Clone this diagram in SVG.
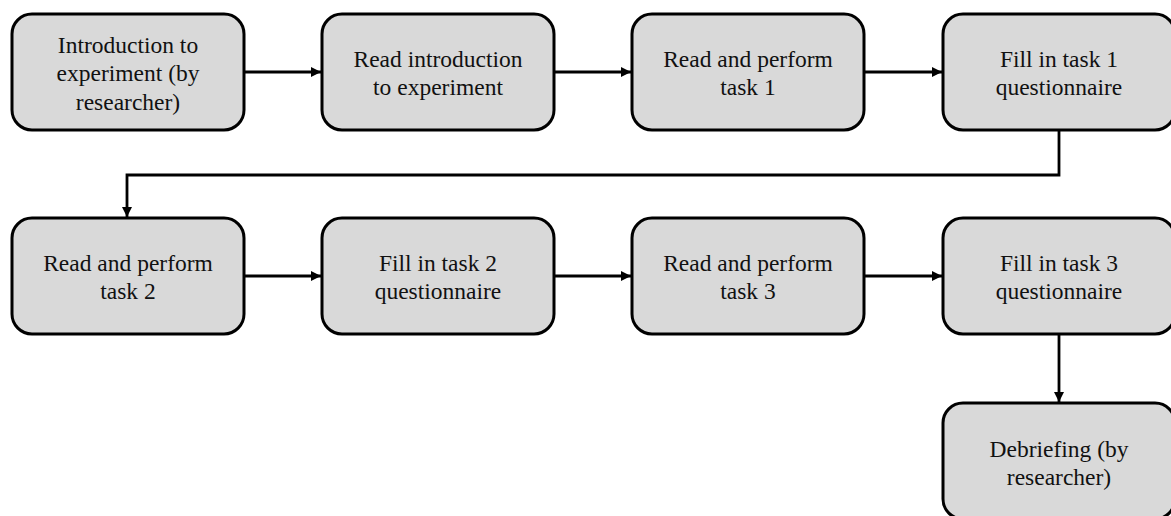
<svg xmlns="http://www.w3.org/2000/svg" width="1171" height="516" viewBox="0 0 1171 516">
  <style>
    .box { fill: #d9d9d9; stroke: #000; stroke-width: 3; }
    .lbl { font-family: "Liberation Serif", "Times New Roman", serif; font-size: 23.5px; fill: #111; text-anchor: middle; }
    .wire { fill: none; stroke: #000; stroke-width: 2.8; marker-end: url(#head); }
  </style>
  <defs>
    <marker id="head" viewBox="0 0 10 10" refX="10" refY="5" markerWidth="3.6" markerHeight="3.6" orient="auto" markerUnits="strokeWidth">
      <path d="M0,0 L10,5 L0,10 Z" fill="#000"/>
    </marker>
  </defs>

  <rect width="1171" height="516" fill="#fff"/>

  <!-- connectors -->
  <g id="connectors">
    <path class="wire" d="M244,72 H321"/>
    <path class="wire" d="M555,72 H631"/>
    <path class="wire" d="M865,72 H942"/>
    <path class="wire" d="M1059,131 V175 H127 V217"/>
    <path class="wire" d="M244,276 H321"/>
    <path class="wire" d="M555,276 H631"/>
    <path class="wire" d="M865,276 H942"/>
    <path class="wire" d="M1059,335 V402"/>
  </g>

  <!-- row 1 -->
  <g id="n1">
    <rect class="box" x="12" y="14" width="232" height="116" rx="20"/>
    <text class="lbl" x="128" y="53">Introduction to</text>
    <text class="lbl" x="128" y="81.3">experiment (by</text>
    <text class="lbl" x="128" y="109.6">researcher)</text>
  </g>
  <g id="n2">
    <rect class="box" x="322" y="14" width="232" height="116" rx="20"/>
    <text class="lbl" x="438" y="66.8">Read introduction</text>
    <text class="lbl" x="438" y="95.1">to experiment</text>
  </g>
  <g id="n3">
    <rect class="box" x="632" y="14" width="232" height="116" rx="20"/>
    <text class="lbl" x="748" y="66.8">Read and perform</text>
    <text class="lbl" x="748" y="95.1">task 1</text>
  </g>
  <g id="n4">
    <rect class="box" x="943" y="14" width="232" height="116" rx="20"/>
    <text class="lbl" x="1059" y="66.8">Fill in task 1</text>
    <text class="lbl" x="1059" y="95.1">questionnaire</text>
  </g>

  <!-- row 2 -->
  <g id="n5">
    <rect class="box" x="12" y="218" width="232" height="116" rx="20"/>
    <text class="lbl" x="128" y="271">Read and perform</text>
    <text class="lbl" x="128" y="299.3">task 2</text>
  </g>
  <g id="n6">
    <rect class="box" x="322" y="218" width="232" height="116" rx="20"/>
    <text class="lbl" x="438" y="271">Fill in task 2</text>
    <text class="lbl" x="438" y="299.3">questionnaire</text>
  </g>
  <g id="n7">
    <rect class="box" x="632" y="218" width="232" height="116" rx="20"/>
    <text class="lbl" x="748" y="271">Read and perform</text>
    <text class="lbl" x="748" y="299.3">task 3</text>
  </g>
  <g id="n8">
    <rect class="box" x="943" y="218" width="232" height="116" rx="20"/>
    <text class="lbl" x="1059" y="271">Fill in task 3</text>
    <text class="lbl" x="1059" y="299.3">questionnaire</text>
  </g>

  <!-- row 3 -->
  <g id="n9">
    <rect class="box" x="943" y="403" width="232" height="116" rx="20"/>
    <text class="lbl" x="1059" y="456.8">Debriefing (by</text>
    <text class="lbl" x="1059" y="485.1">researcher)</text>
  </g>
</svg>
